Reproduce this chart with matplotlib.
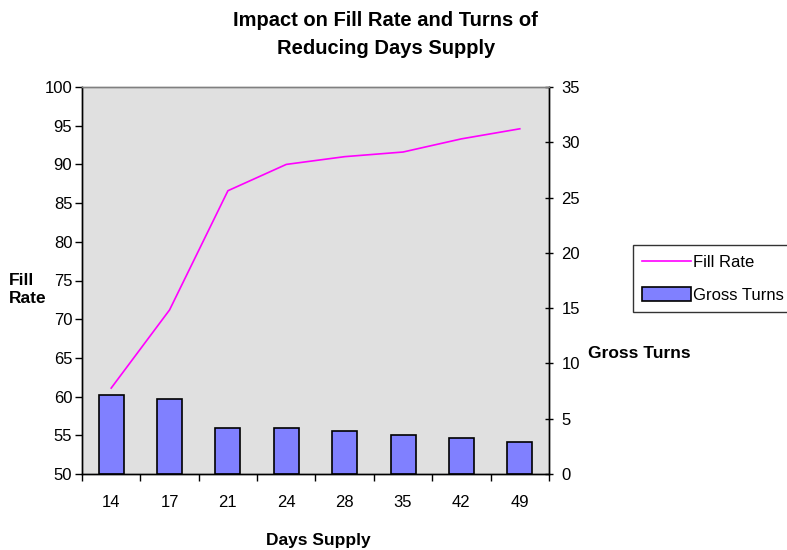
import matplotlib
matplotlib.use('Agg')
import matplotlib.pyplot as plt
import numpy as np

plt.rcParams['font.family'] = ['Liberation Sans', 'DejaVu Sans']

# Data
days_supply = ['14', '17', '21', '24', '28', '35', '42', '49']
fill_rate = [61.1, 71.2, 86.6, 90.0, 91.0, 91.6, 93.3, 94.6]
gross_turns = [7.1, 6.75, 4.2, 4.2, 3.9, 3.55, 3.25, 2.9]

fig = plt.figure(figsize=(7.87, 5.5), dpi=100)
ax = fig.add_axes([82 / 787, 76 / 550, 467 / 787, 387 / 550])
ax2 = ax.twinx()

x = np.arange(len(days_supply))

ax.set_facecolor('#E0E0E0')
ax2.patch.set_visible(False)

bars = ax2.bar(x, gross_turns, width=0.43, color='#8080FF', edgecolor='black',
               linewidth=1.2, label='Gross Turns', zorder=2)

# line lives on the left axis scale but is drawn on top of the bars
ax3 = ax.twinx()
ax3.set_ylim(50, 100)
ax3.axis('off')
line, = ax3.plot(x, fill_rate, color='#FF00FF', linewidth=1.2, label='Fill Rate')

for a in (ax, ax2, ax3):
    a.set_xlim(-0.5, len(days_supply) - 0.5)
ax.set_ylim(50, 100)
ax2.set_ylim(0, 35)
ax.set_yticks(np.arange(50, 101, 5))
ax2.set_yticks(np.arange(0, 36, 5))

# category ticks between bars, labels centred under bars
ax.set_xticks(np.arange(-0.5, len(days_supply), 1.0))
ax.set_xticklabels([''] * (len(days_supply) + 1))
ax.set_xticks(x, minor=True)
ax.set_xticklabels(days_supply, minor=True)
ax.tick_params(axis='x', which='minor', length=0, pad=15, labelsize=12)
ax.tick_params(axis='x', which='major', direction='out', length=5, width=1)
ax.tick_params(axis='y', direction='out', length=5, width=1, labelsize=12, pad=2)
ax2.tick_params(axis='y', direction='inout', length=6, width=1, labelsize=12, pad=6)
ax2.tick_params(axis='x', length=0, labelbottom=False)

for a in (ax, ax2):
    a.spines['top'].set_color('#808080')
    a.spines['left'].set_color('black')
    a.spines['right'].set_color('black')
    a.spines['bottom'].set_color('black')
    for s in a.spines.values():
        s.set_linewidth(1)

fig.text(0.49, 1 - 11 / 550, 'Impact on Fill Rate and Turns of\nReducing Days Supply',
         ha='center', va='top', fontsize=14.5, fontweight='bold', linespacing=1.6)
fig.text(9 / 787, 1 - 289 / 550, 'Fill\nRate', ha='left', va='center',
         fontsize=12.5, fontweight='bold', linespacing=1.25)
fig.text(588 / 787, 1 - 353 / 550, 'Gross Turns', ha='left', va='center',
         fontsize=12.5, fontweight='bold')
fig.text(318 / 787, 1 - 540 / 550, 'Days Supply', ha='center', va='center',
         fontsize=12.5, fontweight='bold')

leg = fig.legend([line, bars], ['Fill Rate', 'Gross Turns'], loc='upper left',
                 bbox_to_anchor=(633 / 787, 1 - 245 / 550), frameon=True,
                 fancybox=False, edgecolor='black', fontsize=12,
                 handlelength=2.9, handleheight=0.9, handletextpad=0.15,
                 borderpad=0.55, labelspacing=1.05, borderaxespad=0)
leg.get_frame().set_linewidth(1)

fig.savefig('out.png', dpi=100)
